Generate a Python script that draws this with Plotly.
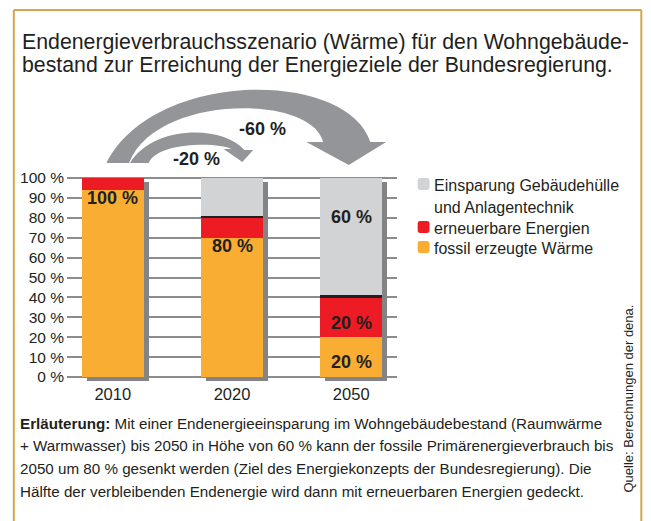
import plotly.graph_objects as go

# ---------------- data ----------------
years = ["2010", "2020", "2050"]
fossil = [94, 70, 20]          # fossil erzeugte Wärme
renewable = [6, 10, 20]        # erneuerbare Energien
savings = [0, 20, 60]          # Einsparung Gebäudehülle und Anlagentechnik
series_names = ["fossil erzeugte Wärme", "erneuerbare Energien",
                "Einsparung Gebäudehülle<br>und Anlagentechnik"]
bar_labels = ["100 %", "80 %", "60 %", "20 %", "20 %"]
reduction_labels = ["-20 %", "-60 %"]
ytick_vals = [0, 10, 20, 30, 40, 50, 60, 70, 80, 90, 100]
ytick_text = ["0 %", "10 %", "20 %", "30 %", "40 %", "50 %", "60 %", "70 %", "80 %", "90 %", "100 %"]

title_lines = [
    "Endenergieverbrauchsszenario (Wärme) für den Wohngebäude-",
    "bestand zur Erreichung der Energieziele der Bundesregierung.",
]
note_lines = [
    "<b>Erläuterung:</b> Mit einer Endenergieeinsparung im Wohngebäudebestand (Raumwärme",
    "+ Warmwasser) bis 2050 in Höhe von 60 % kann der fossile Primärenergieverbrauch bis",
    "2050 um 80 % gesenkt werden (Ziel des Energiekonzepts der Bundesregierung). Die",
    "Hälfte der verbleibenden Endenergie wird dann mit erneuerbaren Energien gedeckt.",
]
source_text = "Quelle: Berechnungen der dena."

# ---------------- style / layout ----------------
OFF = 8                      # page body margin
W, H = 651 - OFF, 521 - OFF
PLOT_L, PLOT_R, PLOT_T, PLOT_B = 62, 397, 176, 382   # page pixels
ML, MR = PLOT_L - OFF, W - (PLOT_R - OFF)
MT, MB = PLOT_T - OFF, H - (PLOT_B - OFF)
PW, PH = PLOT_R - PLOT_L, PLOT_B - PLOT_T
XR = [-0.384, 2.384]
YR = [-2.5, 101]
BAR_W = 0.52
SHADOW_DX = 5 / (PW / (XR[1] - XR[0]))
SHADOW_DY = 2.0

C_FOSSIL = "#F9AE33"
C_RENEW = "#ED1C24"
C_SAVE = "#D1D3D4"
C_DARK = "#231F20"
C_SHADOW = "#838486"
C_ARROW = "#939598"
C_FRAME = "#D6A64C"
FONT = "Liberation Sans, Arial, sans-serif"
series_colors = [C_FOSSIL, C_RENEW, C_SAVE]


def px(x, y):
    """page pixel -> paper coordinates"""
    return (x - PLOT_L) / PW, (PLOT_B - y) / PH


def P(x, y):
    a, b = px(x, y)
    return f"{a:.5f},{b:.5f}"


xs = list(range(len(years)))
totals = [f + r + s for f, r, s in zip(fossil, renewable, savings)]
base_red = fossil
base_save = [f + r for f, r in zip(fossil, renewable)]
sep = [1 if s > 0 else 0 for s in savings]

fig = go.Figure()
fig.add_trace(go.Bar(x=xs, y=totals, base=[-SHADOW_DY] * len(xs), width=BAR_W,
                     offset=-BAR_W / 2 + SHADOW_DX, marker=dict(color=C_SHADOW, line_width=0),
                     showlegend=False, hoverinfo="skip"))
for vals, bases, name, col in zip([fossil, renewable, savings], [[0] * len(xs), base_red, base_save],
                                  series_names, series_colors):
    fig.add_trace(go.Bar(x=xs, y=vals, base=bases, width=BAR_W, name=name.replace("<br>", " "),
                         marker=dict(color=col, line_width=0), showlegend=False))
fig.add_trace(go.Bar(x=xs, y=sep, base=base_save, width=BAR_W, showlegend=False,
                     marker=dict(color=C_DARK, line_width=0), hoverinfo="skip"))

annotations = []
shapes = []

# bar value labels
label_pos = [(0, 90), (1, 66), (2, 80.5), (2, 27), (2, 7.5)]
for t, (lx, ly) in zip(bar_labels, label_pos):
    annotations.append(dict(x=lx, y=ly, xref="x", yref="y", text=f"<b>{t}</b>", showarrow=False,
                            xanchor="center", yanchor="middle",
                            font=dict(size=18, color=C_DARK, family=FONT)))

# reduction labels near arrows
red_pos = [(193, 159), (260, 129)]
for t, (ax_, ay_) in zip(reduction_labels, red_pos):
    a, b = px(ax_, ay_)
    annotations.append(dict(x=a, y=b, xref="paper", yref="paper", text=f"<b>{t}</b>", showarrow=False,
                            xanchor="center", yanchor="middle",
                            font=dict(size=18, color=C_DARK, family=FONT)))

# title
for i, line in enumerate(title_lines):
    a, b = px(14, 42 + 23 * i)
    annotations.append(dict(x=a, y=b, xref="paper", yref="paper", text=line, showarrow=False,
                            xanchor="left", yanchor="middle",
                            font=dict(size=21.3, color=C_DARK, family=FONT)))

# explanatory note
for i, line in enumerate(note_lines):
    a, b = px(12, 423 + 22.7 * i)
    annotations.append(dict(x=a, y=b, xref="paper", yref="paper", text=line, showarrow=False,
                            xanchor="left", yanchor="middle",
                            font=dict(size=15.2, color=C_DARK, family=FONT)))

# source
a, b = px(632, 398)
annotations.append(dict(x=a, y=b, xref="paper", yref="paper", text=source_text, showarrow=False,
                        textangle=-90, xanchor="center", yanchor="middle",
                        font=dict(size=13, color=C_DARK, family=FONT)))

# legend (top to bottom: savings, renewable, fossil)
leg_rows = [185, 228, 248]
for name, col, ry in zip(series_names[::-1], series_colors[::-1], leg_rows):
    for j, part in enumerate(name.split("<br>")):
        a, b = px(433, ry + 22 * j)
        annotations.append(dict(x=a, y=b, xref="paper", yref="paper", text=part, showarrow=False,
                                xanchor="left", yanchor="middle",
                                font=dict(size=16, color=C_DARK, family=FONT)))
    x0, y0, x1, y1, r = 418, ry - 7, 430, ry + 5, 2.5
    path = (f"M {P(x0 + r, y0)} L {P(x1 - r, y0)} Q {P(x1, y0)} {P(x1, y0 + r)} "
            f"L {P(x1, y1 - r)} Q {P(x1, y1)} {P(x1 - r, y1)} L {P(x0 + r, y1)} "
            f"Q {P(x0, y1)} {P(x0, y1 - r)} L {P(x0, y0 + r)} Q {P(x0, y0)} {P(x0 + r, y0)} Z")
    shapes.append(dict(type="path", path=path, xref="paper", yref="paper",
                       fillcolor=col, line=dict(width=0)))

# big arrow (-60 %)
big = (f"M {P(102,163)} C {P(150,69)} {P(346,69)} {P(370,142)} "
       f"L {P(386,142)} L {P(348,165)} L {P(305,142)} L {P(322,142)} "
       f"C {P(310,94)} {P(152,94)} {P(125,163)} Z")
shapes.append(dict(type="path", path=big, xref="paper", yref="paper",
                   fillcolor=C_ARROW, line=dict(width=0), layer="above"))
# small arrow (-20 %)
small = (f"M {P(126,163)} C {P(150,125)} {P(220,125)} {P(242,150)} "
         f"L {P(251,150)} L {P(240,162)} L {P(221,149)} L {P(229,149)} "
         f"C {P(215,142)} {P(154,142)} {P(145,163)} Z")
shapes.append(dict(type="path", path=small, xref="paper", yref="paper",
                   fillcolor=C_ARROW, line=dict(width=0), layer="above"))

# frame (top, left, right)
for (x0, y0, x1, y1) in [(8, 10, 645, 10), (8, 10, 8, 530), (645, 10, 645, 530)]:
    a0, b0 = px(x0, y0)
    a1, b1 = px(x1, y1)
    shapes.append(dict(type="line", x0=a0, y0=b0, x1=a1, y1=b1, xref="paper", yref="paper",
                       line=dict(color=C_FRAME, width=2)))

fig.update_layout(
    width=W, height=H,
    margin=dict(l=ML, r=MR, t=MT, b=MB, pad=0),
    paper_bgcolor="white", plot_bgcolor="white",
    barmode="overlay",
    bargap=0,
    font=dict(family=FONT, color=C_DARK, size=16),
    xaxis=dict(range=XR, tickvals=xs, ticktext=years, showgrid=False, zeroline=False,
               showline=False, ticks="", tickfont=dict(size=16.5), fixedrange=True),
    yaxis=dict(range=YR, tickvals=ytick_vals, ticktext=ytick_text, showgrid=True,
               gridcolor="#8C8C8C", gridwidth=1.5, zeroline=False, showline=False,
               ticks="", tickfont=dict(size=15.5), ticklabelstandoff=2, fixedrange=True),
    annotations=annotations,
    shapes=shapes,
    showlegend=False,
)

fig.write_html("out.html")
